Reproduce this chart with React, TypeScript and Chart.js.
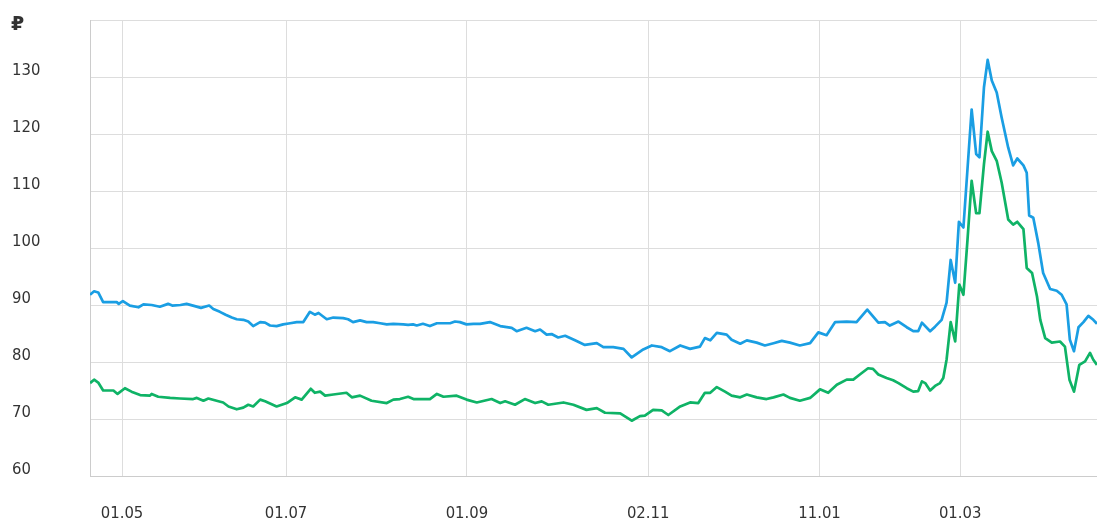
import React, { useEffect, useRef } from "react";
import { Chart, registerables } from "chart.js";

Chart.register(...registerables);

// trading-day index (0 = first point) and rate, RUB
const eurSeries: [number, number][] = [
  [0, 91.8], [1, 92.4], [2, 92.2], [3.2, 90.5], [6.5, 90.5], [7, 90.2], [8, 90.7], [9.7, 89.9], [11.8, 89.6], [13, 90.1],
  [15, 90.0], [17, 89.7], [19, 90.2], [20, 89.9], [22, 90.0], [23.5, 90.2], [25.5, 89.8], [27, 89.5], [29, 89.9], [30, 89.3],
  [31.6, 88.8], [33, 88.3], [34.5, 87.8], [35.7, 87.5], [37.3, 87.4], [38.5, 87.1], [39.7, 86.3], [41.4, 87.0], [42.6, 86.9], [43.8, 86.4],
  [45.4, 86.3], [47, 86.6], [48.7, 86.8], [50.3, 87.0], [51.9, 87.0], [53.5, 88.8], [54.7, 88.3], [55.6, 88.6], [57.6, 87.5], [59.2, 87.8],
  [61.6, 87.7], [62.8, 87.5], [64, 87.0], [65.7, 87.3], [67.3, 87.0], [68.9, 87.0], [70.6, 86.8], [72.2, 86.6], [73.8, 86.7], [76.2, 86.6],
  [77.4, 86.5], [78.6, 86.6], [79.5, 86.4], [81, 86.7], [82.7, 86.3], [84.4, 86.8], [86, 86.8], [87.6, 86.8], [88.8, 87.1], [90, 87.0],
  [91.6, 86.6], [93.3, 86.7], [94.9, 86.7], [97.3, 87.0], [99.8, 86.3], [102.6, 86.0], [103.8, 85.4], [106.2, 86.0], [108.3, 85.4], [109.5, 85.7],
  [111.1, 84.8], [112.3, 84.9], [113.9, 84.3], [115.6, 84.6], [118, 83.8], [120.4, 83.0], [123.3, 83.3], [124.9, 82.6], [127.3, 82.6], [129.8, 82.3],
  [131.8, 80.8], [134.6, 82.2], [136.7, 82.9], [139.1, 82.6], [141.1, 81.9], [143.6, 82.9], [146, 82.3], [148.4, 82.7], [149.6, 84.2], [150.9, 83.8],
  [152.5, 85.1], [154.9, 84.8], [156.1, 83.9], [158.2, 83.2], [159.8, 83.8], [162.2, 83.4], [164.2, 82.9], [166.3, 83.3], [168.3, 83.7], [170.3, 83.4],
  [172.7, 82.9], [175.2, 83.3], [177.2, 85.2], [179.2, 84.7], [181.3, 87.0], [184.1, 87.1], [186.5, 87.0], [189.1, 89.2], [191.8, 86.9], [193.4, 87.0],
  [194.6, 86.4], [196.7, 87.1], [198.7, 86.1], [200.3, 85.4], [201.5, 85.4], [202.4, 86.9], [204.4, 85.4], [205.6, 86.2], [207.2, 87.4], [208.4, 90.4],
  [209.4, 97.9], [210.5, 93.9], [211.4, 104.6], [212.5, 103.6], [214.5, 124.3], [215.6, 116.5], [216.4, 115.9], [217.5, 128.2], [218.4, 133.0], [219.4, 129.4],
  [220.6, 127.3], [221.8, 122.9], [223.4, 117.6], [224.6, 114.5], [225.6, 115.7], [227.1, 114.5], [227.9, 113.2], [228.5, 105.7], [229.5, 105.3], [230.7, 100.9],
  [231.9, 95.6], [233.6, 92.8], [235.2, 92.5], [236.4, 91.8], [237.6, 90.1], [238.4, 83.9], [239.4, 81.9], [240.5, 86.1], [241.7, 87.0], [242.9, 88.1],
  [244.1, 87.4], [245, 86.7],
];

const usdSeries: [number, number][] = [
  [0, 76.3], [1, 76.9], [2, 76.4], [3.2, 75.0], [5.7, 75.0], [6.7, 74.4], [8.5, 75.4], [10.1, 74.8], [12.2, 74.2], [14.6, 74.1],
  [15, 74.4], [16.6, 73.9], [19.5, 73.7], [21.9, 73.6], [25.1, 73.5], [26, 73.7], [27.6, 73.2], [28.8, 73.6], [30.8, 73.2], [32.4, 72.9],
  [33.7, 72.2], [35.7, 71.7], [37.3, 72.0], [38.5, 72.5], [39.7, 72.2], [41.4, 73.4], [42.6, 73.1], [45.4, 72.2], [47.9, 72.8], [49.9, 73.8],
  [51.5, 73.4], [53.7, 75.3], [54.7, 74.6], [56, 74.8], [57.2, 74.1], [59.2, 74.3], [62.4, 74.6], [63.7, 73.8], [65.7, 74.1], [68.5, 73.2],
  [72.2, 72.8], [73.8, 73.4], [75.4, 73.5], [77.4, 73.9], [78.7, 73.5], [82.7, 73.5], [84.4, 74.4], [86, 73.9], [89.2, 74.1], [91.6, 73.4],
  [94.1, 72.9], [97.7, 73.5], [99.8, 72.8], [101, 73.1], [103.4, 72.5], [105.8, 73.5], [108.3, 72.8], [109.9, 73.1], [111.5, 72.5], [115.2, 72.9],
  [117.6, 72.5], [120.8, 71.6], [123.3, 71.9], [125.3, 71.1], [129, 71.0], [131.8, 69.7], [133.8, 70.5], [135, 70.6], [137, 71.6], [139.1, 71.5],
  [140.7, 70.7], [143.6, 72.2], [146, 72.9], [148, 72.8], [149.6, 74.6], [150.9, 74.6], [152.5, 75.6], [154.5, 74.8], [156.1, 74.1], [158.2, 73.8],
  [159.8, 74.3], [162.2, 73.8], [164.6, 73.5], [166.3, 73.8], [168.7, 74.3], [170.3, 73.7], [172.7, 73.2], [175.2, 73.7], [177.6, 75.2], [179.6, 74.6],
  [181.7, 76.0], [184.1, 76.9], [185.7, 76.9], [187.3, 77.8], [189.3, 78.9], [190.5, 78.8], [191.8, 77.8], [193.8, 77.2], [195.4, 76.8], [196.7, 76.3],
  [198.7, 75.4], [200.3, 74.8], [201.5, 74.9], [202.4, 76.6], [203.2, 76.3], [204.4, 75.0], [205.6, 75.8], [206.8, 76.3], [207.6, 77.2], [208.4, 80.4],
  [209.4, 87.0], [210.5, 83.6], [211.5, 93.6], [212.5, 91.8], [213.5, 101.5], [214.5, 111.8], [215.6, 106.1], [216.4, 106.1], [217.5, 114.7], [218.4, 120.4],
  [219.4, 117.0], [220.6, 115.3], [221.8, 111.5], [223.4, 105.0], [224.6, 104.1], [225.6, 104.6], [227.1, 103.3], [227.9, 96.5], [229.2, 95.6], [230.4, 91.5],
  [231.2, 87.4], [232.4, 84.2], [234, 83.4], [236, 83.6], [237.2, 82.7], [238.3, 76.9], [239.4, 74.8], [240.7, 79.5], [242.1, 80.1], [243.3, 81.6],
  [244.1, 80.4], [245, 79.5],
];

const tickDays = [7.8, 47.7, 91.7, 135.8, 177.5, 211.7];
const tickLabels = ["01.05", "01.07", "01.09", "02.11", "11.01", "01.03"];
const yMin = 60;
const yMax = 140;
const yStep = 10;
const currencySign = "₽";

const FONT = "'DejaVu Sans Condensed', 'DejaVu Sans', Verdana, sans-serif";

export default function App() {
  const ref = useRef<HTMLCanvasElement | null>(null);

  useEffect(() => {
    if (!ref.current) return;
    const signPlugin = {
      id: "signPlugin",
      afterDraw(chart: any) {
        const ctx = chart.ctx;
        ctx.save();
        ctx.font = "bold 19px 'DejaVu Sans', sans-serif";
        ctx.fillStyle = "#333333";
        ctx.textAlign = "left";
        ctx.textBaseline = "middle";
        ctx.fillText(currencySign, 11, 25);
        ctx.restore();
      },
    };
    const chart = new Chart(ref.current, {
      type: "line",
      data: {
        datasets: [
          {
            label: "EUR",
            data: eurSeries.map(([x, y]) => ({ x, y })),
            borderColor: "#1a9ee3",
            borderWidth: 2.7,
            pointRadius: 0,
            tension: 0,
            borderJoinStyle: "round",
          },
          {
            label: "USD",
            data: usdSeries.map(([x, y]) => ({ x, y })),
            borderColor: "#0fb366",
            borderWidth: 2.7,
            pointRadius: 0,
            tension: 0,
            borderJoinStyle: "round",
          },
        ],
      },
      options: {
        responsive: false,
        animation: false,
        layout: { padding: { left: 12, top: 20, right: 0, bottom: 0 } },
        plugins: { legend: { display: false }, tooltip: { enabled: false } },
        scales: {
          x: {
            type: "linear",
            min: 0,
            max: 245,
            afterBuildTicks: (scale: any) => {
              scale.ticks = tickDays.map((v) => ({ value: v }));
            },
            afterFit: (scale: any) => {
              scale.height = 45;
            },
            grid: { color: "#dddddd", lineWidth: 1, drawTicks: false },
            border: { color: "#cccccc", width: 1 },
            ticks: {
              autoSkip: false,
              maxRotation: 0,
              padding: 28,
              color: "#333333",
              font: { family: FONT, size: 16.5 },
              callback: (v: any) => {
                const i = tickDays.indexOf(Number(v));
                return i >= 0 ? tickLabels[i] : "";
              },
            },
          },
          y: {
            min: yMin,
            max: yMax,
            afterFit: (scale: any) => {
              scale.width = 78;
            },
            grid: { color: "#dddddd", lineWidth: 1, drawTicks: false },
            border: { color: "#cccccc", width: 1 },
            ticks: {
              stepSize: yStep,
              crossAlign: "far",
              labelOffset: -6,
              color: "#333333",
              font: { family: FONT, size: 16.5 },
              callback: (v: any) => (Number(v) >= yMax ? "" : String(v)),
            },
          },
        },
      },
      plugins: [signPlugin],
    } as any);
    return () => chart.destroy();
  }, []);

  return (
    <div style={{ position: "fixed", left: 0, top: 0, width: 1097, height: 521, background: "#fff" }}>
      <canvas ref={ref} width={1097} height={521} style={{ display: "block" }} />
    </div>
  );
}
